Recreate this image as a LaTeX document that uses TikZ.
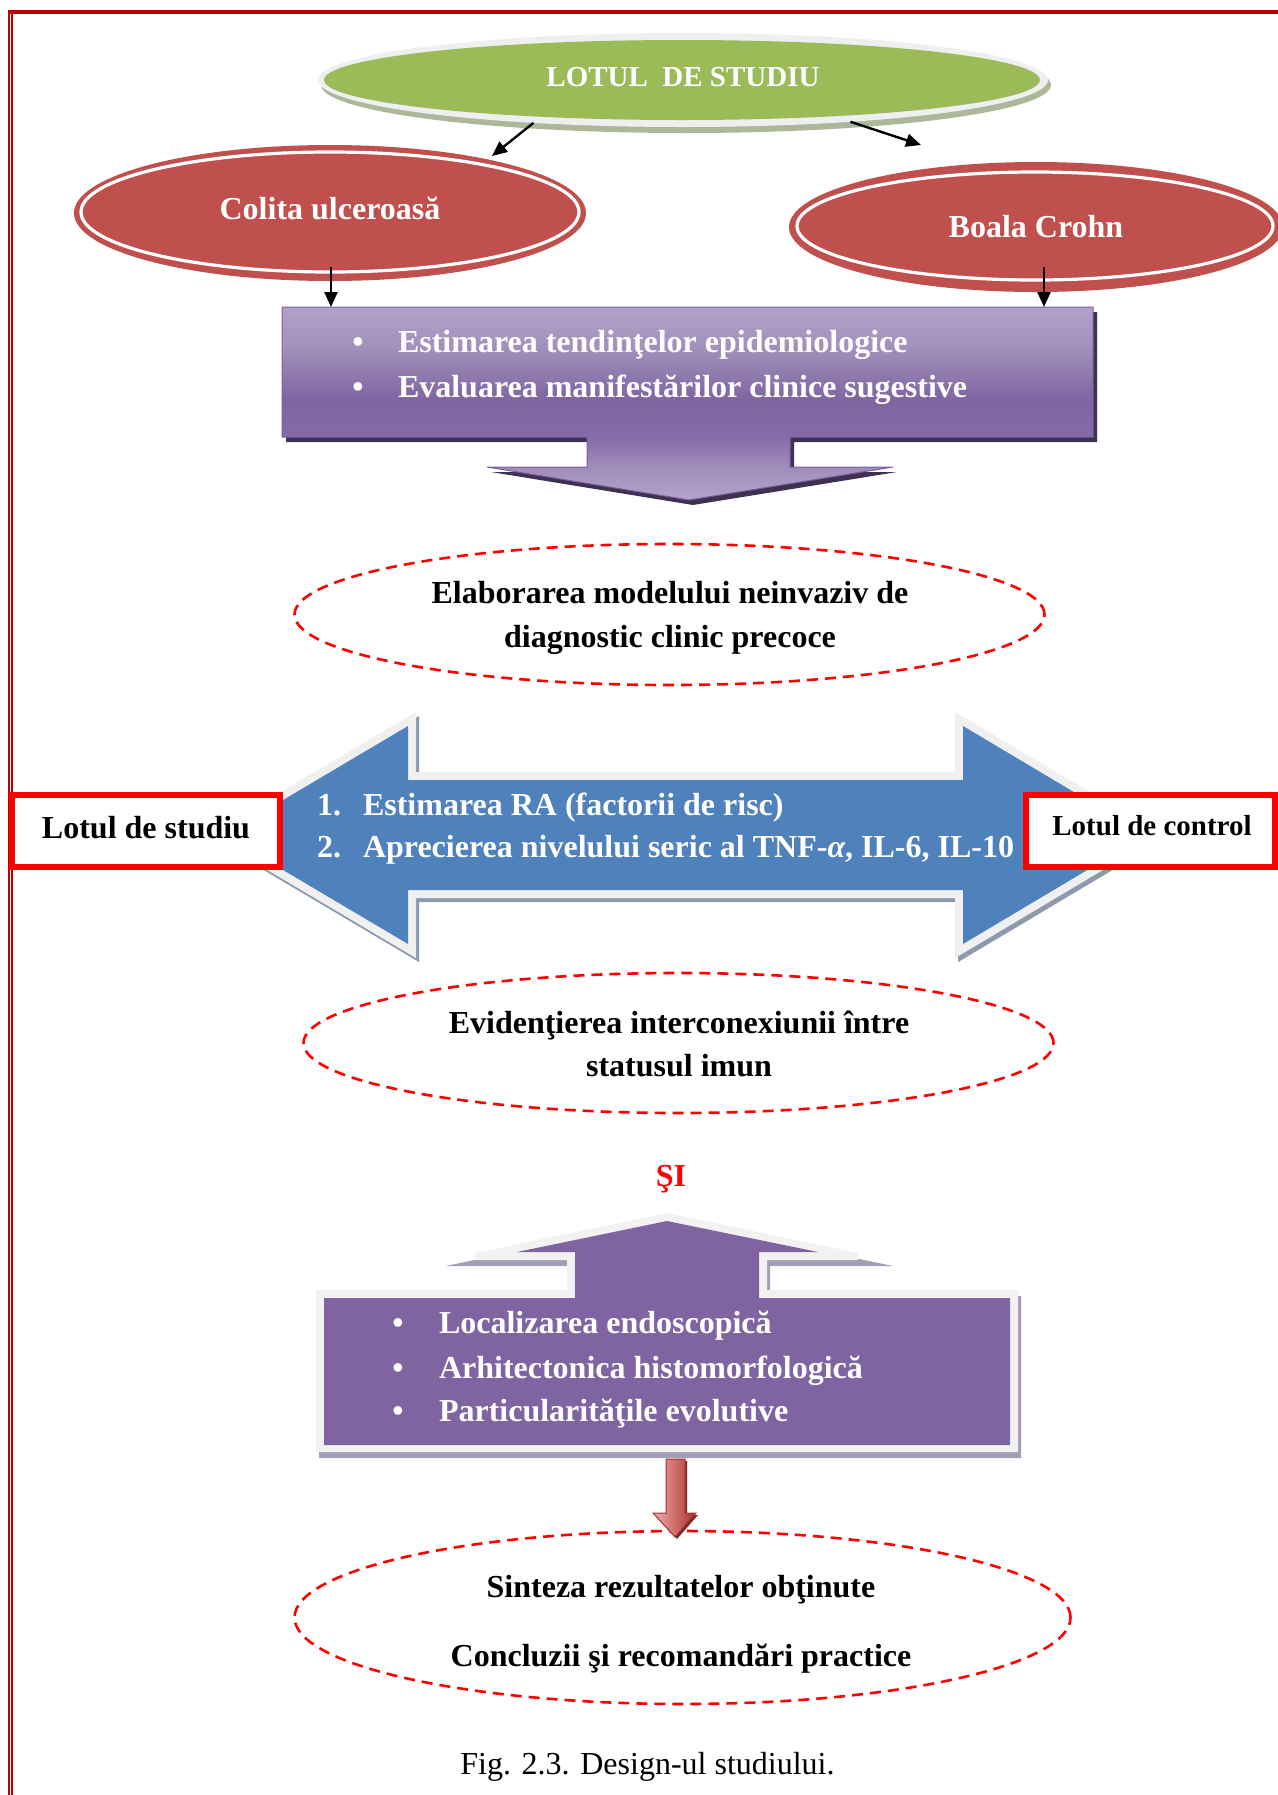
\documentclass[tikz,border=0pt]{standalone}
\usepackage{fontspec}
\setmainfont{Liberation Serif}
\usetikzlibrary{shapes.geometric,arrows.meta,calc}
\definecolor{bordr}{HTML}{C00000}
\definecolor{greenE}{HTML}{9BBB59}
\definecolor{tgray}{HTML}{EFEFEF}
\definecolor{tshadow}{HTML}{ADB89A}
\definecolor{redE}{HTML}{C0504D}
\definecolor{pA}{HTML}{B4A4CA}
\definecolor{pB}{HTML}{A08DBA}
\definecolor{pC}{HTML}{876BA8}
\definecolor{pD}{HTML}{8064A2}
\definecolor{pF}{HTML}{A292BC}
\definecolor{pE}{HTML}{B2A1C8}
\definecolor{pshadow}{HTML}{3F3151}
\definecolor{pborder}{HTML}{7A5F9C}
\definecolor{blueA}{HTML}{4F81BD}
\definecolor{bgray}{HTML}{F0F0F0}
\definecolor{bshadow}{HTML}{8D99AD}
\definecolor{purpB}{HTML}{8064A2}
\definecolor{wgray}{HTML}{F2F2F2}
\definecolor{wshadow}{HTML}{A59DB3}
\definecolor{redL}{HTML}{E8B0AE}
\definecolor{redM}{HTML}{CF6E6B}
\definecolor{redD}{HTML}{A33330}
\definecolor{redS}{HTML}{7B2725}
\pgfdeclareverticalshading{purpsh}{100bp}{color(0bp)=(pA); color(25bp)=(pA); color(33.5bp)=(pB); color(41.3bp)=(pC); color(50.9bp)=(pD); color(65bp)=(pF); color(75bp)=(pE); color(100bp)=(pE)}
\newcommand\tpshape{(282,307) -- (1093,307) -- (1093,437) -- (790,437) -- (790,467) -- (893,467) -- (689,500) -- (487,467) -- (587,467) -- (587,437) -- (282,437) -- cycle}
\newcommand\blshape{(224,835) -- (408,726) -- (408,780) -- (963,780) -- (963,726) -- (1146,835) -- (963,944) -- (963,890) -- (408,890) -- (408,944) -- cycle}
\newcommand\rdshape{(666,1459) -- (685,1459) -- (685,1513) -- (696,1513) -- (675,1537) -- (653,1513) -- (666,1513) -- cycle}
\begin{document}
\begin{tikzpicture}[x=0.5pt,y=-0.5pt,
  wt/.style={text=white, font=\bfseries\fontsize{16}{19}\selectfont, inner sep=0, outer sep=0},
  bt/.style={text=black, font=\bfseries\fontsize{16}{19}\selectfont, inner sep=0, outer sep=0, anchor=base},
  dashell/.style={ellipse, draw=red, dash pattern=on 5.5pt off 3.5pt, line width=1.3pt, inner sep=0, outer sep=0},
  redbox/.style={rectangle, draw=red, line width=3pt, fill=white, inner sep=0},
  ellnode/.style={ellipse, inner sep=0, outer sep=0},
  arr/.style={-{Triangle[length=7.5pt,width=6.5pt]}, line width=1.2pt, black},
  ghost/.style={rectangle, inner sep=0, outer sep=0}]
\useasboundingbox (0,0) rectangle (1278,1795);

% page border
\fill[bordr] (8,10) rectangle (1278,14);
\fill[bordr] (8,10) rectangle (10,1795);
\fill[bordr] (11,10) rectangle (13,1795);

% top ellipse
\fill[tshadow] (686,85) ellipse [x radius=182.5pt, y radius=24pt];
\node[ellnode, fill=tgray, minimum width=365pt, minimum height=47pt] (top) at (683,80) {};
\node[ellnode, fill=greenE, minimum width=358pt, minimum height=40pt] (topin) at (682,80) {};
\node[wt, anchor=base, font=\bfseries\fontsize{14.5}{17}\selectfont] (topT) at (683,86) {LOTUL\ \ DE STUDIU};

% red ellipses
\node[ellnode, fill=redE, minimum width=256pt, minimum height=68pt] (col) at (330,213) {};
\draw[white, line width=1.6pt] (330,212) ellipse [x radius=124.5pt, y radius=30pt];
\node[wt, anchor=base] (colT) at (330,219) {Colita ulceroasă};

\node[ellnode, fill=redE, minimum width=247pt, minimum height=65pt] (cr) at (1036,227) {};
\draw[white, line width=1.6pt] (1035,226) ellipse [x radius=119pt, y radius=27pt];
\node[wt, anchor=base] (crT) at (1036,237) {Boala Crohn};

% arrows from top ellipse
\coordinate (colE) at (492,156);
\coordinate (crE) at (921,145);
\draw[arr] (top.196) -- (colE);
\draw[arr] (top.346.4) -- (crE);

% top purple box with down arrow
\node[ghost, minimum width=405.5pt, minimum height=65pt] (pbox) at (687.5,372) {};
\begin{scope}[shift={(4,5)}]
\fill[pshadow] \tpshape;
\end{scope}
\path[shading=purpsh, draw=pborder, line width=0.5pt] \tpshape;
\coordinate (c1) at (331,267);
\coordinate (c2) at (1044,267);
\draw[arr] (c1) -- (c1 |- pbox.north);
\draw[arr] (c2) -- (c2 |- pbox.north);
\node[wt, anchor=base] (b1) at (358,352) {•};
\node[wt, anchor=base west] (t1) at (398,352) {Estimarea tendinţelor epidemiologice};
\node[wt, anchor=base] (b2) at (358,397) {•};
\node[wt, anchor=base west] (t2) at (398,397) {Evaluarea manifestărilor clinice sugestive};

% dashed ellipse 1
\node[dashell, minimum width=375pt, minimum height=70.5pt] (e1) at (669.5,614.5) {};
\node[bt] (e1a) at (670,603) {Elaborarea modelului neinvaziv de};
\node[bt] (e1b) at (670,647) {diagnostic clinic precoce};

% blue double arrow
\begin{scope}[shift={(3,4)}]
\path[draw=bshadow, fill=bshadow, line width=8pt, line join=miter] \blshape;
\end{scope}
\path[draw=bgray, fill=bgray, line width=8pt, line join=miter] \blshape;
\fill[blueA] \blshape;
\node[wt, anchor=base west] (n1) at (317,815) {1.};
\node[wt, anchor=base west] (m1) at (363,815) {Estimarea RA (factorii de risc)};
\node[wt, anchor=base west] (n2) at (317,857) {2.};
\node[wt, anchor=base west] (m2) at (363,857) {Aprecierea nivelului seric al TNF-\textit{α}, IL-6, IL-10};

% red boxes
\node[redbox, minimum width=134pt, minimum height=36pt] (ls) at (146,831) {};
\node[bt] (lsT) at (146,838) {Lotul de studiu};
\node[redbox, minimum width=124.5pt, minimum height=36pt] (lc) at (1150.5,831) {};
\node[bt, font=\bfseries\fontsize{14.5}{17}\selectfont] (lcT) at (1152,835) {Lotul de control};

% dashed ellipse 2
\node[dashell, minimum width=375pt, minimum height=70pt] (e2) at (678.5,1043) {};
\node[bt] (e2a) at (679,1033) {Evidenţierea interconexiunii între};
\node[bt] (e2b) at (679,1076) {statusul imun};

\node[bt, text=red] (si) at (671,1186) {ŞI};

% bottom purple box with up arrow
\fill[wshadow] (319,1458) -- (319,1296) -- (570,1296) -- (570,1266) -- (446,1266) -- (667,1219) -- (893,1266) -- (770,1266) -- (770,1296) -- (1021,1296) -- (1021,1458) -- cycle;
\fill[wgray] (316,1452) -- (316,1290) -- (567,1290) -- (567,1260) -- (475,1260) -- (475,1253) -- (667,1213) -- (858,1253) -- (858,1260) -- (767,1260) -- (767,1290) -- (1018,1290) -- (1018,1452) -- cycle;
\fill[purpB] (324,1445) -- (324,1298) -- (575,1298) -- (575,1252) -- (517,1252) -- (667,1221) -- (818,1252) -- (759,1252) -- (759,1298) -- (1010,1298) -- (1010,1445) -- cycle;
\node[ghost, minimum width=343pt, minimum height=73.5pt] (bbox) at (667,1371.5) {};
\node[wt, anchor=base] (d1) at (398,1333) {•};
\node[wt, anchor=base west] (u1) at (439,1333) {Localizarea endoscopică};
\node[wt, anchor=base] (d2) at (398,1378) {•};
\node[wt, anchor=base west] (u2) at (439,1378) {Arhitectonica histomorfologică};
\node[wt, anchor=base] (d3) at (398,1421) {•};
\node[wt, anchor=base west] (u3) at (439,1421) {Particularităţile evolutive};

% dashed ellipse 3
\node[dashell, minimum width=388pt, minimum height=86.5pt] (e3) at (682.5,1617.5) {};
\node[bt] (e3a) at (681,1597) {Sinteza rezultatelor obţinute};
\node[bt] (e3b) at (681,1666) {Concluzii şi recomandări practice};

% red block arrow
\begin{scope}[shift={(2,2)}]
\fill[redS] \rdshape;
\end{scope}
\path[left color=redL, right color=redD, middle color=redM, draw=redD, line width=0.5pt] \rdshape;

% caption
\node[anchor=base, inner sep=0, font=\fontsize{16}{19}\selectfont] (cap) at (647.5,1774) {Fig. 2.3. Design-ul studiului.};
\end{tikzpicture}
\end{document}
